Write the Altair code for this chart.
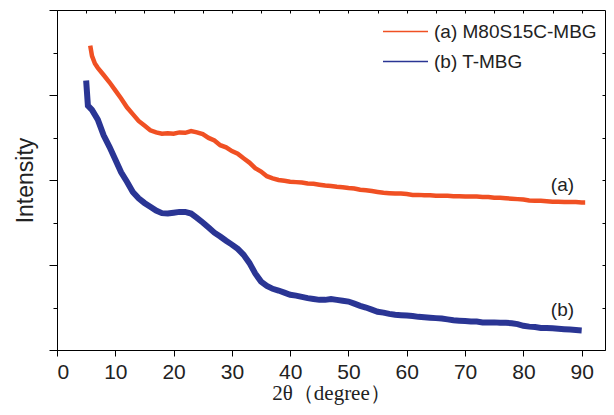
import altair as alt
import pandas as pd

# (a) M80S15C-MBG
x_a = [5.7, 6.0, 6.5, 7, 8, 9, 10, 11, 12, 13, 14, 15, 16, 17, 18, 19, 20, 21, 22, 23, 24,
       25, 26, 27, 28, 29, 30, 31, 32, 33, 34, 35, 36, 37, 38, 39, 40, 41, 42, 43, 44,
       45, 46, 47, 48, 49, 50, 51, 52, 53, 54, 55, 56, 57, 58, 59, 60, 61, 62, 63, 64,
       65, 66, 67, 68, 69, 70, 71, 72, 73, 74, 75, 76, 77, 78, 79, 80, 81, 82, 83, 84,
       85, 86, 87, 88, 89, 90, 90.6]
y_a = [7.16, 6.92, 6.74, 6.64, 6.47, 6.30, 6.11, 5.92, 5.71, 5.55, 5.39, 5.28, 5.17, 5.12,
       5.09, 5.10, 5.09, 5.12, 5.11, 5.15, 5.12, 5.08, 4.99, 4.93, 4.82, 4.77, 4.68, 4.62,
       4.51, 4.41, 4.28, 4.20, 4.09, 4.04, 4.00, 3.98, 3.96, 3.95, 3.94, 3.92, 3.91, 3.89,
       3.87, 3.86, 3.84, 3.83, 3.81, 3.80, 3.77, 3.76, 3.74, 3.72, 3.70, 3.69, 3.68, 3.68,
       3.67, 3.65, 3.65, 3.64, 3.64, 3.63, 3.63, 3.63, 3.62, 3.62, 3.61, 3.61, 3.61, 3.60,
       3.60, 3.58, 3.58, 3.57, 3.56, 3.55, 3.54, 3.52, 3.51, 3.51, 3.50, 3.49, 3.49, 3.48,
       3.48, 3.48, 3.47, 3.47]

# (b) T-MBG
x_b = [5.0, 5.3, 6, 7, 8, 9, 10, 11, 12, 13, 14, 15, 16, 17, 18, 19, 20, 21, 22, 23,
       24, 25, 26, 27, 28, 29, 30, 31, 32, 33, 34, 35, 36, 37, 38, 39, 40, 41, 42, 43,
       44, 45, 46, 47, 48, 49, 50, 51, 52, 53, 54, 55, 56, 57, 58, 59, 60, 61, 62, 63,
       64, 65, 66, 67, 68, 69, 70, 71, 72, 73, 74, 75, 76, 77, 78, 79, 80, 81, 82, 83,
       84, 85, 86, 87, 88, 89, 90]
y_b = [6.34, 5.75, 5.65, 5.42, 5.05, 4.78, 4.48, 4.18, 3.96, 3.72, 3.57, 3.46, 3.37,
       3.28, 3.22, 3.21, 3.23, 3.25, 3.25, 3.21, 3.11, 3.00, 2.88, 2.76, 2.67, 2.57, 2.48,
       2.38, 2.24, 2.05, 1.80, 1.61, 1.51, 1.44, 1.40, 1.35, 1.30, 1.28, 1.25, 1.22, 1.20,
       1.18, 1.18, 1.20, 1.18, 1.16, 1.14, 1.09, 1.04, 1.00, 0.95, 0.90, 0.88, 0.85, 0.83,
       0.82, 0.81, 0.80, 0.78, 0.77, 0.76, 0.75, 0.74, 0.72, 0.70, 0.69, 0.68, 0.67, 0.67,
       0.65, 0.65, 0.65, 0.64, 0.64, 0.63, 0.61, 0.57, 0.55, 0.54, 0.52, 0.52, 0.51, 0.50,
       0.49, 0.48, 0.47, 0.46]

series_names = ["(a) M80S15C-MBG", "(b) T-MBG"]
series_colors = ["#f05023", "#2a3594"]

label_text = ["(a)", "(b)"]
label_x = [86.7, 86.7]
label_y = [3.89, 0.93]

x_ticks = [0, 5, 10, 15, 20, 25, 30, 35, 40, 45, 50, 55, 60, 65, 70, 75, 80, 85, 90]
y_ticks = [0, 1, 2, 3, 4, 5, 6, 7, 8]

df_a = pd.DataFrame({"x": x_a, "y": y_a, "series": series_names[0]})
df_b = pd.DataFrame({"x": x_b, "y": y_b, "series": series_names[1]})
lab_df = pd.DataFrame({"x": label_x, "y": label_y, "text": label_text})

x_scale = alt.Scale(domain=[0, 94], nice=False, zero=False)
y_scale = alt.Scale(domain=[0, 8], nice=False, zero=False)

x_axis = alt.Axis(
    orient="bottom", values=x_ticks, title="2θ（degree）",
    titleFont="Liberation Serif", titleFontSize=21, titleFontWeight="normal",
    titleColor="#222", titlePadding=0,
    labelExpr="datum.value % 10 === 0 ? datum.label : ''",
    labelPadding=5,
    tickSize={"condition": {"test": "datum.value % 10 === 0", "value": 6}, "value": 3},
)
y_axis = alt.Axis(
    orient="left", values=y_ticks, labels=False, title="Intensity",
    titleFont="Liberation Sans", titleFontSize=23, titleFontWeight="normal",
    titleColor="#222", titlePadding=11,
    tickSize={"condition": {"test": "datum.value % 2 === 0", "value": 8}, "value": 4},
)
color = alt.Color("series:N", scale=alt.Scale(domain=series_names, range=series_colors),
                  legend=alt.Legend(
                      title=None, orient="none", legendX=339, legendY=12,
                      symbolType="M-3,0H3", symbolSize=225, symbolStrokeWidth=1.5,
                      labelFont="Liberation Sans", labelFontSize=19, labelColor="#222",
                      labelOffset=19, rowPadding=10, padding=0, labelLimit=0))

line_a = alt.Chart(df_a).mark_line(clip=True, strokeWidth=4.5).encode(
    x=alt.X("x:Q", scale=x_scale, axis=x_axis),
    y=alt.Y("y:Q", scale=y_scale, axis=y_axis),
    color=color,
)
line_b = alt.Chart(df_b).mark_line(clip=True, strokeWidth=6).encode(
    x=alt.X("x:Q", scale=x_scale),
    y=alt.Y("y:Q", scale=y_scale),
    color=color,
)

labels = alt.Chart(lab_df).mark_text(font="Liberation Sans", fontSize=19, color="#222").encode(
    x=alt.X("x:Q", scale=x_scale, axis=alt.Axis(
        orient="top", values=x_ticks[1:], tickSize=3, offset=-3, labels=False,
        domain=False, title=None)),
    y=alt.Y("y:Q", scale=y_scale, axis=alt.Axis(
        orient="right", values=y_ticks[1:-1], tickSize=3, offset=-3, labels=False,
        domain=False, title=None)),
    text="text:N",
)

lines = alt.layer(line_b, line_a)

chart = alt.layer(lines, labels).resolve_axis(
    x="independent", y="independent"
).properties(
    width=548, height=340,
    autosize=alt.AutoSizeParams(type="none"),
    padding={"left": 49, "top": 2, "right": 1, "bottom": 57},
    background="white",
).configure_view(
    stroke="black", strokeWidth=1
).configure_axis(
    domainColor="black", tickColor="black", labelColor="#222",
    labelFont="Liberation Sans", labelFontSize=21, grid=False,
    domainWidth=1, tickWidth=1,
)

chart.save("out.html", embed_options={"renderer": "svg", "actions": False})
